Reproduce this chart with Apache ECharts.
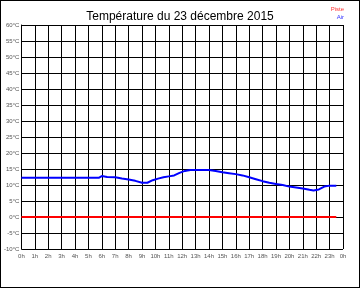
<!DOCTYPE html>
<html><head><meta charset="utf-8">
<script src="https://cdn.jsdelivr.net/npm/echarts@6/dist/echarts.min.js"></script>
<style>
html,body{margin:0;padding:0;background:#fff;}
#c{width:358px;height:286px;border:1px solid #000;}
</style></head>
<body><div id="c"></div>
<script>
const titleText = "Température du 23 décembre 2015";
const legendNames = ["Piste", "Air"];
const airHours = [0,1,2,3,4,5,5.8,6,6.4,7,7.5,8,8.5,9,9.4,9.8,10.2,10.6,11,11.4,11.8,12.2,12.6,13,13.5,14,14.5,15,15.5,16,16.5,17,17.5,18,18.5,19,19.5,20,20.5,21,21.5,21.8,22.2,22.6,23,23.5];
const airTemps = [12.3,12.3,12.3,12.3,12.3,12.3,12.3,12.8,12.5,12.4,12.0,11.7,11.3,10.7,10.7,11.5,12.0,12.4,12.7,13.0,13.8,14.4,14.7,14.7,14.7,14.7,14.4,14.0,13.7,13.4,13.0,12.4,11.8,11.2,10.7,10.3,10.0,9.5,9.2,8.9,8.5,8.3,8.6,9.5,9.8,9.8];
const pisteHours = [0,23.5];
const pisteTemps = [0,0];
const xMin = 0, xMax = 24, xStep = 1;
const yMin = -10, yMax = 60, yStep = 5;

const chart = echarts.init(document.getElementById('c'));
const font = 'Liberation Sans, Arial, sans-serif';
chart.setOption({
  animation:false,
  backgroundColor:'#fff',
  title:{text:titleText,left:'center',top:5,textStyle:{fontSize:12,fontWeight:'normal',color:'#000',fontFamily:font}},
  graphic:[
    {type:'text',right:15,top:5,style:{text:legendNames[0],fill:'#ff3333',font:'6px '+font}},
    {type:'text',right:15,top:13,style:{text:legendNames[1],fill:'#3333ff',font:'6px '+font}}
  ],
  grid:{left:16,top:24,width:326,height:224,containLabel:false},
  xAxis:{type:'value',min:xMin,max:xMax,interval:xStep,
    axisLine:{lineStyle:{color:'#000',width:1}},axisTick:{show:false},
    splitLine:{show:true,lineStyle:{color:'#000',width:1}},
    axisLabel:{fontSize:6,color:'#555',fontFamily:font,margin:4,formatter:v=>(v%24)+'h'}},
  yAxis:{type:'value',min:yMin,max:yMax,interval:yStep,
    axisLine:{show:true,lineStyle:{color:'#000',width:1}},axisTick:{show:false},
    splitLine:{show:true,lineStyle:{color:'#000',width:1}},
    axisLabel:{fontSize:6,color:'#555',fontFamily:font,margin:2,formatter:'{value}°C'}},
  series:[
    {name:legendNames[0],type:'line',data:pisteHours.map((h,i)=>[h,pisteTemps[i]]),showSymbol:false,lineStyle:{color:'#ff0000',width:2},z:3},
    {name:legendNames[1],type:'line',data:airHours.map((h,i)=>[h,airTemps[i]]),showSymbol:false,lineStyle:{color:'#0000ff',width:2},z:4}
  ]
});
</script></body></html>
